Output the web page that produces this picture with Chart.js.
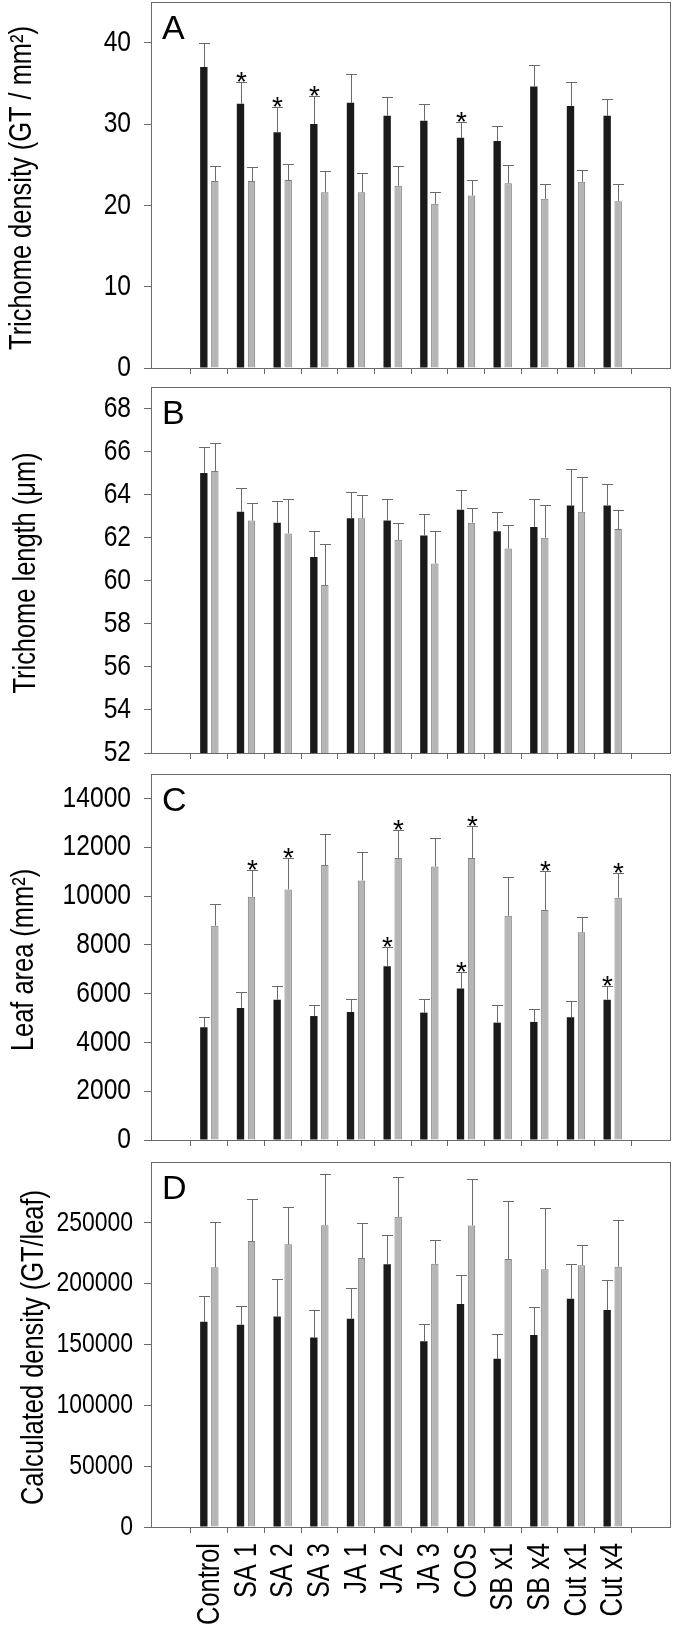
<!DOCTYPE html>
<html>
<head>
<meta charset="utf-8">
<script src="https://cdn.jsdelivr.net/npm/chart.js@4.4.1/dist/chart.umd.min.js"></script>
<style>
body{margin:0;background:#fff;width:676px;height:1630px;position:relative;overflow:hidden}
canvas{position:absolute;left:0}
</style>
</head>
<body>
<canvas id="chartA" width="676" height="382" style="top:0px"></canvas>
<canvas id="chartB" width="676" height="387" style="top:380px"></canvas>
<canvas id="chartC" width="676" height="387" style="top:767px"></canvas>
<canvas id="chartD" width="676" height="475" style="top:1155px"></canvas>
<script>
var categories=['Control','SA 1','SA 2','SA 3','JA 1','JA 2','JA 3','COS','SB x1','SB x4','Cut x1','Cut x4']

// A - trichome density (GT / mm2)
var densBlack=[37.0,32.5,29.0,30.0,32.6,31.0,30.4,28.3,27.9,34.6,32.2,31.0]
var densBlackErr=[3.0,2.7,3.1,3.4,3.5,2.3,2.0,2.0,1.9,2.6,3.0,2.1]
var densGray=[23.0,23.0,23.1,21.6,21.6,22.4,20.2,21.2,22.7,20.8,22.9,20.5]
var densGrayErr=[1.8,1.7,2.0,2.6,2.4,2.4,1.4,1.9,2.2,1.8,1.4,2.1]
var densBlackSig=[0,1,1,1,0,0,0,1,0,0,0,0]
var densTicks=[0,10,20,30,40]

// B - trichome length (um)
var lenBlack=[65.0,63.2,62.7,61.1,62.9,62.8,62.1,63.3,62.3,62.5,63.5,63.5]
var lenBlackErr=[1.2,1.1,1.0,1.2,1.2,1.0,1.0,0.9,0.9,1.3,1.7,1.0]
var lenGray=[65.1,62.8,62.2,59.8,62.9,61.9,60.8,62.7,61.5,62.0,63.2,62.4]
var lenGrayErr=[1.3,0.8,1.6,1.9,1.1,0.8,1.5,0.7,1.1,1.5,1.6,0.9]
var lenTicks=[52,54,56,58,60,62,64,66,68]

// C - leaf area (mm2)
var areaBlack=[4620,5410,5750,5080,5250,7120,5220,6210,4810,4840,5030,5750]
var areaBlackErr=[410,650,550,440,530,810,560,670,710,530,660,550]
var areaGray=[8780,9970,10270,11270,10640,11560,11210,11560,9190,9430,8510,9930]
var areaGrayErr=[890,1110,1290,1290,1170,1140,1170,1290,1590,1600,640,1020]
var areaBlackSig=[0,0,0,0,0,1,0,1,0,0,0,1]
var areaGraySig=[0,1,1,0,0,1,0,1,0,1,0,1]
var areaTicks=[0,2000,4000,6000,8000,10000,12000,14000]

// D - calculated density (GT/leaf)
var calcBlack=[168700,166300,173100,155700,171200,215900,152700,183200,138200,157800,187600,178300]
var calcBlackErr=[20800,15000,30800,22600,25400,23700,14400,24300,20500,23200,28600,24800]
var calcGray=[213500,235000,232300,248100,221100,254900,216400,247800,220300,211800,215100,214000]
var calcGrayErr=[36800,34900,30800,41700,28600,32400,19400,37900,47400,50400,16300,38700]
var calcTicks=[0,50000,100000,150000,200000,250000]

var FONT='"Liberation Sans", Arial, Helvetica, sans-serif'
var LINE='#6a6a6a'

// no narrow font installed, so squeeze Liberation Sans like Arial Narrow
function narrowText(ctx,text,x,y,size,rot,align,base){
    ctx.save()
    ctx.translate(x,y)
    if(rot) ctx.rotate(rot)
    ctx.scale(0.82,1)
    ctx.font=size+'px '+FONT
    ctx.fillStyle='#000'
    ctx.textAlign=align
    ctx.textBaseline=base
    ctx.fillText(text,0,0)
    ctx.restore()
}

// error whiskers, asterisks, frame, panel letter and all axis text
var panelBox={
    id:'panelBox',
    afterDatasetsDraw:function(chart,args,opts){
        var ctx=chart.ctx
        var yScale=chart.scales.y
        var ca=chart.chartArea
        ctx.save()
        ctx.lineWidth=1
        chart.data.datasets.forEach(function(ds,di){
            var meta=chart.getDatasetMeta(di)
            meta.data.forEach(function(bar,i){
                var x=Math.round(bar.x)+0.5
                var top=Math.round(yScale.getPixelForValue(ds.data[i].y+ds.err[i]))+0.5
                ctx.strokeStyle=LINE
                ctx.beginPath()
                ctx.moveTo(x,bar.y)
                ctx.lineTo(x,top)
                ctx.moveTo(x-5.5,top)
                ctx.lineTo(x+5.5,top)
                ctx.stroke()
                if(ds.sig && ds.sig[i]){
                    ctx.fillStyle='#000'
                    ctx.font='28px '+FONT
                    ctx.textAlign='center'
                    ctx.textBaseline='alphabetic'
                    ctx.fillText('*',x,top+8)
                }
            })
        })
        ctx.strokeStyle=LINE
        ctx.strokeRect(Math.round(ca.left)+0.5,Math.round(ca.top)+0.5,Math.round(ca.right-ca.left)-1,Math.round(ca.bottom-ca.top))
        ctx.fillStyle='#000'
        ctx.font='34px '+FONT
        ctx.textAlign='left'
        ctx.textBaseline='alphabetic'
        ctx.fillText(opts.letter,ca.left+11,ca.top+37)
        ctx.restore()
    },
    afterDraw:function(chart,args,opts){
        var ctx=chart.ctx
        var xs=chart.scales.x, ys=chart.scales.y
        var ca=chart.chartArea
        ys.ticks.forEach(function(t){
            narrowText(ctx,String(t.value),ca.left-opts.tickGap,ys.getPixelForValue(t.value),opts.tickSize,0,'right','middle')
        })
        narrowText(ctx,opts.title,opts.titleX,(ca.top+ca.bottom)/2+3,31,-Math.PI/2,'center','alphabetic')
        if(opts.showLabels){
            categories.forEach(function(c,i){
                narrowText(ctx,c,xs.getPixelForValue(i+1)+1,ca.bottom+16,31,-Math.PI/2,'right','middle')
            })
        }
    }
}

function toPoints(arr){
    return arr.map(function(v,i){return {x:i+1,y:v}})
}

function makePanel(id,p){
    return new Chart(document.getElementById(id),{
        type:'bar',
        data:{
            datasets:[
                {data:toPoints(p.black),err:p.blackErr,sig:p.blackSig,backgroundColor:'#1a1a1a',borderWidth:0},
                {data:toPoints(p.gray),err:p.grayErr,sig:p.graySig,backgroundColor:'#b5b5b5',borderColor:'#7a7a7a',borderWidth:1}
            ]
        },
        options:{
            responsive:false,
            animation:false,
            layout:{padding:{top:p.padTop,right:5,left:0,bottom:0}},
            datasets:{bar:{categoryPercentage:0.6,barPercentage:0.67}},
            plugins:{
                legend:{display:false},
                tooltip:{enabled:false},
                panelBox:{letter:p.letter,title:p.title,titleX:p.titleX,tickSize:p.tickSize,
                    tickGap:p.tickGap,showLabels:p.showLabels}
            },
            scales:{
                x:{
                    type:'linear',min:0,max:13,
                    afterBuildTicks:function(s){s.ticks=categories.map(function(c,i){return {value:i+1}})},
                    afterFit:function(s){s.height=p.xHeight;s.paddingLeft=0;s.paddingRight=0},
                    grid:{drawOnChartArea:false,drawTicks:true,tickLength:6,color:LINE},
                    border:{display:false},
                    ticks:{display:false}
                },
                y:{
                    min:p.yMin,max:p.yMax,
                    afterBuildTicks:function(s){s.ticks=p.yTicks.map(function(v){return {value:v}})},
                    afterFit:function(s){s.width=151;s.paddingTop=0;s.paddingBottom=0},
                    grid:{drawOnChartArea:false,drawTicks:true,tickLength:7,color:LINE},
                    border:{display:false},
                    ticks:{display:false},
                    title:{display:false}
                }
            }
        },
        plugins:[panelBox]
    })
}

makePanel('chartA',{black:densBlack,blackErr:densBlackErr,blackSig:densBlackSig,
    gray:densGray,grayErr:densGrayErr,graySig:null,
    yMin:0,yMax:45,yTicks:densTicks,title:'Trichome density (GT / mm²)',letter:'A',
    padTop:2,xHeight:14,showLabels:false,tickSize:30,tickGap:20,titleX:31})

makePanel('chartB',{black:lenBlack,blackErr:lenBlackErr,blackSig:null,
    gray:lenGray,grayErr:lenGrayErr,graySig:null,
    yMin:52,yMax:69,yTicks:lenTicks,title:'Trichome length (μm)',letter:'B',
    padTop:7,xHeight:14,showLabels:false,tickSize:30,tickGap:20,titleX:35})

makePanel('chartC',{black:areaBlack,blackErr:areaBlackErr,blackSig:areaBlackSig,
    gray:areaGray,grayErr:areaGrayErr,graySig:areaGraySig,
    yMin:0,yMax:15000,yTicks:areaTicks,title:'Leaf area (mm²)',letter:'C',
    padTop:7,xHeight:14,showLabels:false,tickSize:30,tickGap:20,titleX:33})

makePanel('chartD',{black:calcBlack,blackErr:calcBlackErr,blackSig:null,
    gray:calcGray,grayErr:calcGrayErr,graySig:null,
    yMin:0,yMax:300000,yTicks:calcTicks,title:'Calculated density (GT/leaf)',letter:'D',
    padTop:7,xHeight:103,showLabels:true,tickSize:28,tickGap:18,titleX:43})
</script>
</body>
</html>
